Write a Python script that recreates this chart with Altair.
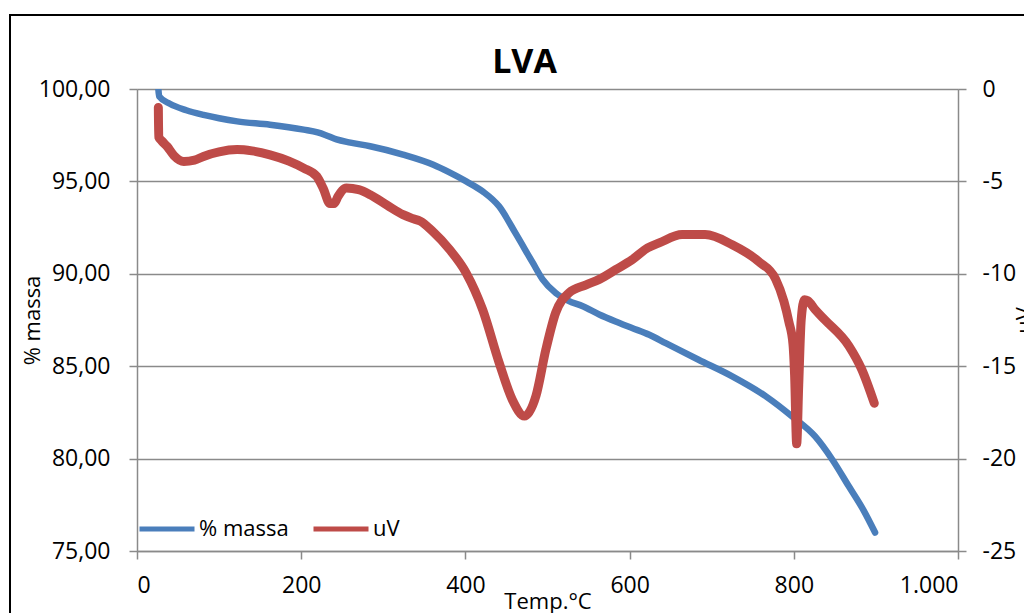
import json
import altair as alt
import pandas as pd

# ---- data ----
T_massa = [26, 27, 40, 60, 81, 100, 122, 162, 203, 220, 230, 243, 260, 284, 324, 361, 380,
           401, 421, 441, 461, 482, 494, 510, 525, 543, 563, 583, 603, 624, 644, 684, 725,
           766, 798, 826, 847, 867, 885, 899]
massa = [100.0, 99.6, 99.2, 98.85, 98.6, 98.42, 98.25, 98.07, 97.8, 97.65, 97.5, 97.27, 97.1,
         96.9, 96.45, 95.9, 95.5, 95.0, 94.46, 93.65, 92.2, 90.6, 89.7, 88.96, 88.55, 88.24,
         87.8, 87.42, 87.07, 86.7, 86.25, 85.35, 84.45, 83.37, 82.28, 81.2, 79.94, 78.5,
         77.2, 76.0]

T_uv = [26, 26.5, 30, 36.5, 45, 57, 70, 81, 100, 122, 140, 162, 185, 203, 219, 227, 235, 240,
        245, 255, 270, 284, 305, 324, 335, 345, 360, 381, 401, 421, 441, 457, 472, 486, 498,
        510, 526, 547, 563, 583, 603, 622, 636, 664, 692, 725, 757, 778, 788, 794, 799, 801,
        803.5, 806, 809, 813, 817, 826, 838, 867, 883, 898]
uv = [-1.0, -2.6, -2.8, -3.1, -3.6, -3.92, -3.85, -3.65, -3.4, -3.28, -3.35, -3.56, -3.9,
      -4.28, -4.73, -5.4, -6.2, -6.2, -5.8, -5.36, -5.45, -5.72, -6.3, -6.8, -7.0, -7.15,
      -7.7, -8.7, -9.96, -11.94, -14.8, -16.8, -17.7, -16.6, -14.1, -12.1, -11.04, -10.6,
      -10.3, -9.78, -9.24, -8.6, -8.33, -7.88, -7.88, -8.43, -9.33, -10.3, -11.5, -12.6,
      -13.8, -15.5, -19.2, -16.0, -12.5, -11.4, -11.45, -11.94, -12.5, -13.9, -15.2, -17.0]

series_names = ["% massa", "uV"]
series_colors = ["#4A7EBB", "#BE4B48"]

x_ticks = [0, 200, 400, 600, 800, 1000]
x_labels = ["0", "200", "400", "600", "800", "1.000"]
left_ticks = [75, 80, 85, 90, 95, 100]
left_labels = ["75,00", "80,00", "85,00", "90,00", "95,00", "100,00"]
right_ticks = [-25, -20, -15, -10, -5, 0]
right_labels = ["-25", "-20", "-15", "-10", "-5", "0"]

FONT = "Open Sans"
GRAY = "#8a8a8a"
LABEL_SIZE = 23


def label_expr(ticks, labels):
    return f"{json.dumps(labels)}[indexof({json.dumps(ticks)}, datum.value)]"


df_m = pd.DataFrame({"T": T_massa, "v": massa, "s": "% massa"})
df_u = pd.DataFrame({"T": T_uv, "v": uv, "s": "uV"})

color = alt.Color(
    "s:N",
    scale=alt.Scale(domain=series_names, range=series_colors),
    legend=alt.Legend(
        orient="none", legendX=0, legendY=410, direction="horizontal", title=None,
        symbolType="stroke", symbolSize=3025, symbolStrokeWidth=5,
        labelFontSize=22, labelFont=FONT, labelColor="black", columnPadding=14,
        labelOffset=2, padding=0,
    ),
)

x = alt.X(
    "T:Q",
    scale=alt.Scale(domain=[0, 1000], nice=False),
    axis=alt.Axis(
        values=x_ticks, labelExpr=label_expr(x_ticks, x_labels), title="Temp.°C",
        grid=False, tickSize=8, labelPadding=15, labelFontSize=LABEL_SIZE, labelFont=FONT,
        labelColor="black", titleFont=FONT, titleFontSize=22, titleFontWeight="normal",
        titleColor="black", titleBaseline="alphabetic", titleY=57,
        domainColor=GRAY, tickColor=GRAY, domainWidth=1.5, tickWidth=1.5,
    ),
)

blue = alt.Chart(df_m).mark_line(strokeWidth=6.5, strokeCap="round", strokeJoin="round",
                                  interpolate="monotone", clip=True).encode(
    x=x,
    y=alt.Y(
        "v:Q", scale=alt.Scale(domain=[75, 100], nice=False, zero=False),
        axis=alt.Axis(
            values=left_ticks, labelExpr=label_expr(left_ticks, left_labels),
            title="% massa", orient="left", grid=True, gridColor=GRAY, gridWidth=1.5,
            tickSize=8, labelPadding=19, labelFontSize=LABEL_SIZE, labelFont=FONT,
            labelColor="black", labelBaseline="middle",
            titleFont=FONT, titleFontSize=22, titleFontWeight="normal", titleColor="black",
            titleAngle=-90, titleX=-105, titleY=231, titleBaseline="middle",
            titleAlign="center",
            domainColor=GRAY, tickColor=GRAY, domainWidth=1.5, tickWidth=1.5,
        ),
    ),
    color=color,
    order="T:Q",
)

red = alt.Chart(df_u).mark_line(strokeWidth=9, strokeCap="round", strokeJoin="round",
                                 interpolate="monotone", clip=True).encode(
    x=x,
    y=alt.Y(
        "v:Q", scale=alt.Scale(domain=[-25, 0], nice=False, zero=False),
        axis=alt.Axis(
            values=right_ticks, labelExpr=label_expr(right_ticks, right_labels),
            title="uV", orient="right", grid=False,
            tickSize=8, labelPadding=16, labelFontSize=LABEL_SIZE, labelFont=FONT,
            labelColor="black", labelBaseline="middle",
            titleFont=FONT, titleFontSize=22, titleFontWeight="normal", titleColor="black",
            titleAngle=-90, titleX=66, titleY=231, titleBaseline="middle",
            titleAlign="center",
            domainColor=GRAY, tickColor=GRAY, domainWidth=1.5, tickWidth=1.5,
        ),
    ),
    color=color,
    order="T:Q",
)

frame = alt.Chart(pd.DataFrame({"a": [0]})).mark_rect(
    fill="transparent", stroke="black", strokeWidth=2
).encode(
    x=alt.value(-127), y=alt.value(-74), x2=alt.value(1000), y2=alt.value(600)
)

chart = alt.layer(frame, blue, red).resolve_scale(y="independent").properties(
    width=821, height=462,
    title=alt.TitleParams("LVA", font=FONT, fontSize=34, fontWeight="bold", color="black",
                          anchor="middle", frame="group", dx=-23, offset=-93,
                          baseline="alphabetic"),
    autosize=alt.AutoSizeParams(type="none"),
    padding={"left": 137, "top": 89, "right": 66, "bottom": 62},
).configure_view(stroke="transparent").configure(background="white")

chart.save("out.html", embed_options={"renderer": "svg", "actions": False})
